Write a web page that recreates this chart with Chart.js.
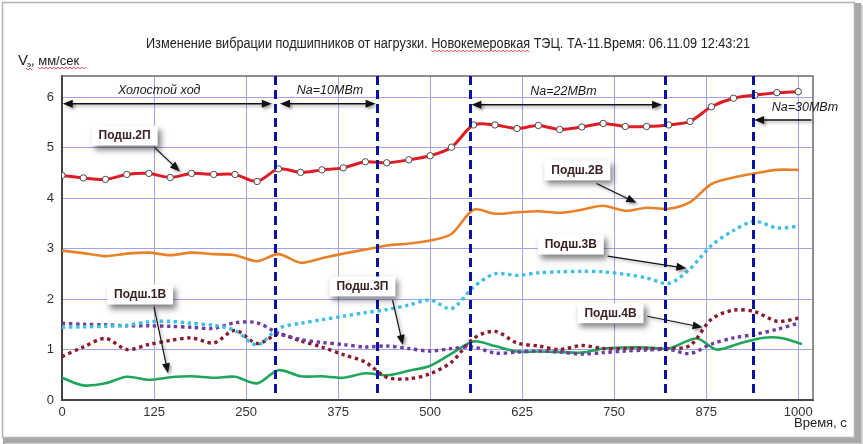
<!DOCTYPE html>
<html><head><meta charset="utf-8">
<script src="https://cdn.jsdelivr.net/npm/chart.js@4.4.1/dist/chart.umd.min.js"></script>
<style>html,body{margin:0;padding:0;background:#fff;}#wrap{width:863px;height:444px;position:relative;}canvas{display:block;}</style>
</head><body><div id="wrap"><canvas id="c" width="863" height="444" style="width:863px;height:444px"></canvas></div>
<script>
// ---- data ----
const times = [0,29,59,88,118,147,176,206,235,265,294,324,353,382,412,441,471,500,529,559,588,618,647,676,706,735,765,794,824,853,882,912,941,971,1000];
const greenTimes = [0,29,59,88,118,147,176,206,235,265,294,324,353,382,412,441,471,500,529,559,588,618,647,676,706,735,765,794,824,862,889,920,951,977,1005];
const bearing2P = [4.45,4.40,4.37,4.47,4.49,4.41,4.49,4.47,4.47,4.33,4.58,4.51,4.56,4.60,4.72,4.70,4.76,4.84,5.01,5.45,5.45,5.38,5.44,5.36,5.41,5.48,5.42,5.42,5.45,5.52,5.81,5.98,6.04,6.09,6.11];
const bearing2V = [2.96,2.91,2.85,2.90,2.92,2.87,2.92,2.89,2.87,2.75,2.89,2.72,2.81,2.90,2.98,3.06,3.10,3.16,3.29,3.77,3.69,3.72,3.74,3.71,3.77,3.85,3.75,3.81,3.79,3.92,4.28,4.41,4.49,4.56,4.56];
const bearing3V = [1.44,1.45,1.46,1.48,1.55,1.56,1.52,1.48,1.38,1.09,1.42,1.52,1.59,1.66,1.73,1.79,1.88,1.98,1.81,2.24,2.50,2.47,2.52,2.54,2.55,2.54,2.49,2.42,2.31,2.60,3.06,3.36,3.54,3.41,3.44];
const bearing3P = [1.52,1.50,1.49,1.47,1.47,1.46,1.44,1.42,1.53,1.53,1.32,1.20,1.14,1.10,1.05,1.07,1.02,0.97,1.02,1.05,0.93,0.95,0.97,0.95,0.91,0.94,0.97,0.99,1.00,0.92,1.11,1.23,1.30,1.40,1.52];
const bearing4V = [0.86,1.05,1.22,1.00,1.10,1.18,1.23,1.13,1.38,1.12,1.30,1.17,1.05,0.90,0.75,0.45,0.42,0.52,0.75,1.22,1.36,1.13,1.07,1.00,1.08,1.02,1.02,1.02,1.02,1.08,1.60,1.78,1.75,1.56,1.62];
const bearing1V = [0.44,0.29,0.33,0.46,0.40,0.45,0.47,0.44,0.46,0.33,0.59,0.47,0.47,0.44,0.53,0.49,0.58,0.68,0.92,1.16,1.07,0.96,0.96,0.95,0.94,1.02,1.04,1.04,1.02,1.22,1.00,1.12,1.23,1.23,1.11];
const xTicks = [0,125,250,375,500,625,750,875,1000];
const yTicks = [0,1,2,3,4,5,6];
const phaseBounds = [289,428,554,819,938];
const phaseLabels = ['Холостой ход','Na=10MBm','Na=22MBm','Na=30MBm'];
const seriesNames = ['Подш.2П','Подш.2В','Подш.3В','Подш.3П','Подш.4В','Подш.1В'];
const titleText = 'Изменение вибрации подшипников от нагрузки. Новокемеровкая ТЭЦ. ТА-11.Время: 06.11.09 12:43:21';
const xTitle = 'Время, с';

// annotation placement in data units
const phaseLabelPos = [[132,6.13],[364,6.13],[681,6.11],[1009,5.79]];
const phaseArrows = [[1,285,5.87,true],[296,426,5.87,true],[556,815,5.85,true],[1018,940,5.55,false]];
const callouts = [
  {t:0,cx:85,cy:5.24,ax:126,ay:5.00,bx:160,by:4.53},
  {t:1,cx:700,cy:4.55,ax:726,ay:4.29,bx:780,by:3.91},
  {t:2,cx:691,cy:3.08,ax:741,ay:2.85,bx:848,by:2.61},
  {t:3,cx:408,cy:2.25,ax:449,ay:1.98,bx:463,by:1.09},
  {t:5,cx:106,cy:2.09,ax:125,ay:1.84,bx:144,by:0.53},
  {t:4,cx:745,cy:1.72,ax:795,ay:1.66,bx:870,by:1.44}
];

const FONT = "'Liberation Sans', Arial, sans-serif";
function pts(tt, arr){ return arr.map((v,i)=>({x:tt[i],y:v})); }

function arrowHead(ctx,x1,y1,x2,y2,len,w){
  const a=Math.atan2(y2-y1,x2-x1);
  ctx.beginPath();
  ctx.moveTo(x2,y2);
  ctx.lineTo(x2-len*Math.cos(a)+w*Math.sin(a), y2-len*Math.sin(a)-w*Math.cos(a));
  ctx.lineTo(x2-len*Math.cos(a)-w*Math.sin(a), y2-len*Math.sin(a)+w*Math.cos(a));
  ctx.closePath(); ctx.fill();
}
function arrow(ctx,x1,y1,x2,y2,both){
  const a=Math.atan2(y2-y1,x2-x1), L=10;
  ctx.beginPath();
  ctx.moveTo(both? x1+L*0.8*Math.cos(a):x1, both? y1+L*0.8*Math.sin(a):y1);
  ctx.lineTo(x2-L*0.8*Math.cos(a), y2-L*0.8*Math.sin(a));
  ctx.stroke();
  arrowHead(ctx,x1,y1,x2,y2,L,4);
  if(both) arrowHead(ctx,x2,y2,x1,y1,L,4);
}
function squiggle(ctx,x1,x2,y){
  ctx.save(); ctx.strokeStyle='#e03030'; ctx.lineWidth=0.8; ctx.beginPath();
  for(let x=x1,k=0;x<=x2;x+=2,k++){ const yy=y+(k%2?1:-1)*1; if(k===0)ctx.moveTo(x,yy); else ctx.lineTo(x,yy);} ctx.stroke(); ctx.restore();
}

const decor = {
  id:'decor',
  beforeDraw(chart){
    const ctx=chart.ctx; ctx.save();
    ctx.fillStyle='#fff'; ctx.fillRect(0,0,chart.width,chart.height);
    ctx.fillStyle='#a8a8a8'; ctx.fillRect(855,3,6,440); ctx.fillRect(3,438,858,6);
    ctx.fillStyle='#d0d0d0'; ctx.fillRect(861,5,2,439); ctx.fillRect(5,443,858,1);
    ctx.strokeStyle='#b4b4b4'; ctx.lineWidth=1.5; ctx.strokeRect(2.5,2.5,852,435);
    ctx.restore();
  },
  afterDatasetsDraw(chart){
    const ctx=chart.ctx, xs=chart.scales.x, ys=chart.scales.y, a=chart.chartArea;
    ctx.save();
    // plot border top/right
    ctx.strokeStyle='#6a6a6a'; ctx.lineWidth=1.5;
    ctx.beginPath(); ctx.moveTo(a.left,a.top); ctx.lineTo(a.right,a.top); ctx.lineTo(a.right,a.bottom); ctx.stroke();
    // dashed phase bounds
    ctx.strokeStyle='#0a14a0'; ctx.lineWidth=3; ctx.setLineDash([9,5]);
    phaseBounds.forEach(b=>{const x=Math.round(xs.getPixelForValue(b))+0.5; ctx.beginPath(); ctx.moveTo(x,a.top); ctx.lineTo(x,a.bottom-4); ctx.stroke();});
    ctx.setLineDash([]);
    // phase arrows
    ctx.shadowColor='rgba(0,0,0,0.35)'; ctx.shadowBlur=3; ctx.shadowOffsetX=2; ctx.shadowOffsetY=2;
    ctx.strokeStyle='#111'; ctx.fillStyle='#111'; ctx.lineWidth=1.5;
    phaseArrows.forEach(p=>{const y=ys.getPixelForValue(p[2]); arrow(ctx,xs.getPixelForValue(p[0]),y,xs.getPixelForValue(p[1]),y,p[3]);});
    ctx.shadowColor='transparent';
    ctx.font='italic 12.5px '+FONT; ctx.fillStyle='#1a1a1a'; ctx.textAlign='center'; ctx.textBaseline='middle';
    phaseLabels.forEach((t,i)=>{ctx.fillText(t,xs.getPixelForValue(phaseLabelPos[i][0]),ys.getPixelForValue(phaseLabelPos[i][1]));});
    // callouts
    ctx.font='bold 12px '+FONT;
    callouts.forEach(c=>{
      const t=seriesNames[c.t], cx=xs.getPixelForValue(c.cx), cy=ys.getPixelForValue(c.cy);
      const w=ctx.measureText(t).width+14, h=20;
      ctx.save(); ctx.shadowColor='rgba(0,0,0,0.5)'; ctx.shadowBlur=6; ctx.shadowOffsetX=3; ctx.shadowOffsetY=4;
      ctx.fillStyle='#fff'; ctx.fillRect(cx-w/2,cy-h/2,w,h); ctx.restore();
      ctx.fillStyle='#3a2222'; ctx.fillText(t,cx,cy+0.5);
      ctx.save(); ctx.shadowColor='rgba(0,0,0,0.35)'; ctx.shadowBlur=3; ctx.shadowOffsetX=2; ctx.shadowOffsetY=2;
      ctx.strokeStyle='#111'; ctx.fillStyle='#111'; ctx.lineWidth=1.2;
      arrow(ctx,xs.getPixelForValue(c.ax),ys.getPixelForValue(c.ay),xs.getPixelForValue(c.bx),ys.getPixelForValue(c.by),false);
      ctx.restore();
    });
    // title
    ctx.textAlign='left'; ctx.textBaseline='alphabetic'; ctx.fillStyle='#222';
    ctx.font='14px '+FONT;
    const tw=ctx.measureText(titleText).width, sx=604/tw;
    ctx.save(); ctx.translate(146,48); ctx.scale(sx,1); ctx.fillText(titleText,0,0);
    const pre=ctx.measureText('Изменение вибрации подшипников от нагрузки. ').width, wd=ctx.measureText('Новокемеровкая').width;
    ctx.restore();
    squiggle(ctx,146+pre*sx,146+(pre+wd)*sx,51);
    // y title
    ctx.font='15px '+FONT; ctx.fillText('V',18,65);
    ctx.font='8px '+FONT; ctx.fillText('э.',27,67);
    ctx.font='13px '+FONT; ctx.fillText(', мм/сек',31,65);
    squiggle(ctx,26,32,69); squiggle(ctx,38,86,68);
    // x title
    ctx.font='13px '+FONT; ctx.fillText(xTitle,794,427);
    ctx.restore();
  }
};

const common = {fill:false, tension:0.3, pointRadius:0, pointHoverRadius:0, borderCapStyle:'butt'};
new Chart(document.getElementById('c'),{
  type:'line',
  data:{datasets:[
    Object.assign({},common,{label:seriesNames[0],data:pts(times,bearing2P),borderColor:'#e01b24',borderWidth:3,pointRadius:3.2,pointBackgroundColor:'#fff',pointBorderColor:'#4a4a4a',pointBorderWidth:1}),
    Object.assign({},common,{label:seriesNames[1],data:pts(times,bearing2V),borderColor:'#e8822a',borderWidth:2.6}),
    Object.assign({},common,{label:seriesNames[2],data:pts(times,bearing3V),borderColor:'#3ec0e2',borderWidth:3.4,borderDash:[3.4,3.6]}),
    Object.assign({},common,{label:seriesNames[3],data:pts(times,bearing3P),borderColor:'#6e3d9e',borderWidth:3.4,borderDash:[3.4,3.6]}),
    Object.assign({},common,{label:seriesNames[4],data:pts(times,bearing4V),borderColor:'#8a1a2e',borderWidth:3.4,borderDash:[3.4,3.6]}),
    Object.assign({},common,{label:seriesNames[5],data:pts(greenTimes,bearing1V),borderColor:'#1fa65a',borderWidth:2.6})
  ]},
  options:{
    responsive:false, animation:false, devicePixelRatio:1,
    layout:{padding:{left:0,top:76,right:50,bottom:0}},
    plugins:{legend:{display:false},title:{display:false},tooltip:{enabled:false}},
    events:[],
    scales:{
      x:{type:'linear',min:0,max:1020,
        afterBuildTicks(s){s.ticks=xTicks.map(v=>({value:v}));},
        afterFit(s){s.height=44;},
        grid:{color:'#a2a2ee',lineWidth:1,drawTicks:false},
        border:{color:'#444',width:2},
        ticks:{padding:5,font:{family:FONT,size:13},color:'#333',maxRotation:0,callback:v=>String(v)}
      },
      y:{type:'linear',min:0,max:6.42,
        afterBuildTicks(s){s.ticks=yTicks.map(v=>({value:v}));},
        afterFit(s){s.width=62;},
        grid:{color:'#a2a2ee',lineWidth:1,drawTicks:false},
        border:{color:'#444',width:2},
        ticks:{padding:8,font:{family:FONT,size:13},color:'#333',callback:v=>String(v)}
      }
    }
  },
  plugins:[decor]
});
</script></body></html>
